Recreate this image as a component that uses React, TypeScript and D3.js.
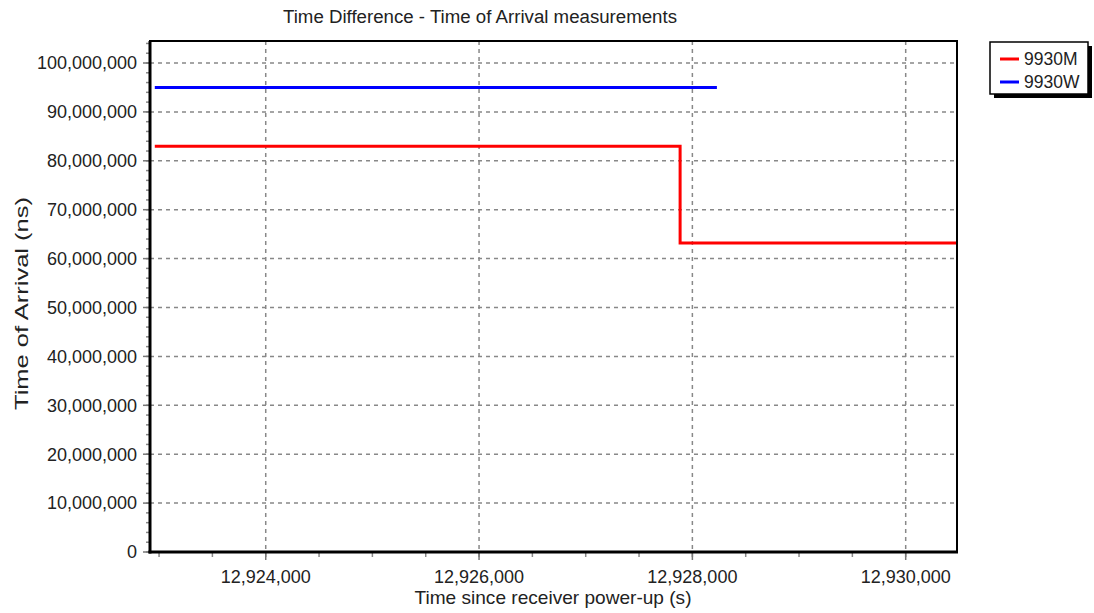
import { useEffect, useRef } from "react";
import * as d3 from "d3";

// values
const seriesNames = ["9930M", "9930W"];
const seriesColors = ["#ff0000", "#0000ff"];
const mTimes = [12922960, 12927885, 12930481];
const mValues = [83000000, 63200000, 63200000];
const wTimes = [12922960, 12928230];
const wValues = [95000000, 95000000];
const xTicks = [12924000, 12926000, 12928000, 12930000];
const yTicks = [0, 10000000, 20000000, 30000000, 40000000, 50000000, 60000000, 70000000, 80000000, 90000000, 100000000];
const xDomain = [12922915, 12930481];
const yDomain = [0, 104500000];

export default function App() {
  const svgRef = useRef<SVGSVGElement>(null);

  useEffect(() => {
    const W = 1094, H = 613;
    const margin = { top: 41, right: 137, bottom: 61, left: 150 };
    const width = W - margin.left - margin.right;
    const height = H - margin.top - margin.bottom;
    const font = "Arial, 'Liberation Sans', sans-serif";

    const root = d3.select(svgRef.current);
    root.selectAll("*").remove();
    root.attr("width", W).attr("height", H);
    root.append("rect").attr("width", W).attr("height", H).attr("fill", "white");

    const svg = root.append("g").attr("transform", `translate(${margin.left},${margin.top})`);

    const x = d3.scaleLinear().domain(xDomain).range([0, width]);
    const y = d3.scaleLinear().domain(yDomain).range([height, 0]);
    const fmt = d3.format(",");

    // grid
    svg.append("g").selectAll("line").data(yTicks.filter(d => d > 0)).join("line")
      .attr("x1", 0).attr("x2", width)
      .attr("y1", d => y(d)).attr("y2", d => y(d))
      .attr("stroke", "#888").attr("stroke-width", 1.5).attr("stroke-dasharray", "4,4");
    svg.append("g").selectAll("line").data(xTicks).join("line")
      .attr("x1", d => x(d)).attr("x2", d => x(d))
      .attr("y1", 0).attr("y2", height)
      .attr("stroke", "#888").attr("stroke-width", 1.5).attr("stroke-dasharray", "4,4");

    // minor ticks
    const yMinor = d3.range(0, yDomain[1], 2000000);
    svg.append("g").selectAll("line").data(yMinor).join("line")
      .attr("x1", -4).attr("x2", 0)
      .attr("y1", d => y(d)).attr("y2", d => y(d))
      .attr("stroke", "#888").attr("stroke-width", 1.5);
    const xMinor = d3.range(12923000, xDomain[1], 500);
    svg.append("g").selectAll("line").data(xMinor).join("line")
      .attr("x1", d => x(d)).attr("x2", d => x(d))
      .attr("y1", height).attr("y2", height + 5)
      .attr("stroke", "#888").attr("stroke-width", 1.5);

    // major ticks + labels
    const yAxis = svg.append("g");
    yAxis.selectAll("line").data(yTicks).join("line")
      .attr("x1", -7).attr("x2", 0)
      .attr("y1", d => y(d)).attr("y2", d => y(d))
      .attr("stroke", "#777").attr("stroke-width", 1.5);
    yAxis.selectAll("text").data(yTicks).join("text")
      .attr("x", -13).attr("y", d => y(d)).attr("dy", "0.35em")
      .attr("text-anchor", "end").attr("font-family", font).attr("font-size", 18)
      .attr("fill", "#222").text(d => fmt(d));

    const xAxis = svg.append("g");
    xAxis.selectAll("line").data(xTicks).join("line")
      .attr("x1", d => x(d)).attr("x2", d => x(d))
      .attr("y1", height).attr("y2", height + 8)
      .attr("stroke", "#777").attr("stroke-width", 1.5);
    xAxis.selectAll("text").data(xTicks).join("text")
      .attr("x", d => x(d)).attr("y", height + 31)
      .attr("text-anchor", "middle").attr("font-family", font).attr("font-size", 18)
      .attr("fill", "#222").text(d => fmt(d));

    // series
    const lineM = d3.line<number>().x((d, i) => x(mTimes[i])).y(d => y(d)).curve(d3.curveStepAfter);
    const lineW = d3.line<number>().x((d, i) => x(wTimes[i])).y(d => y(d));
    svg.append("path").datum(mValues).attr("fill", "none")
      .attr("stroke", seriesColors[0]).attr("stroke-width", 3).attr("d", lineM);
    svg.append("path").datum(wValues).attr("fill", "none")
      .attr("stroke", seriesColors[1]).attr("stroke-width", 3).attr("d", lineW);

    // frame
    svg.append("rect").attr("width", width).attr("height", height)
      .attr("fill", "none").attr("stroke", "black").attr("stroke-width", 2);
    svg.append("line").attr("x1", 0).attr("x2", 0).attr("y1", 0).attr("y2", height + 1.5)
      .attr("stroke", "black").attr("stroke-width", 3);
    svg.append("line").attr("x1", -1.5).attr("x2", width + 1).attr("y1", height).attr("y2", height)
      .attr("stroke", "black").attr("stroke-width", 3);

    // titles
    root.append("text").attr("x", 480).attr("y", 23)
      .attr("text-anchor", "middle").attr("font-family", font).attr("font-size", 18)
      .attr("textLength", 394).attr("lengthAdjust", "spacingAndGlyphs")
      .attr("fill", "#222").text("Time Difference - Time of Arrival measurements");
    root.append("text").attr("x", 553).attr("y", 604)
      .attr("text-anchor", "middle").attr("font-family", font).attr("font-size", 19)
      .attr("textLength", 277).attr("lengthAdjust", "spacingAndGlyphs")
      .attr("fill", "#222").text("Time since receiver power-up (s)");
    root.append("text")
      .attr("transform", `translate(28,303.5) rotate(-90)`)
      .attr("text-anchor", "middle").attr("font-family", font).attr("font-size", 18)
      .attr("textLength", 213).attr("lengthAdjust", "spacingAndGlyphs")
      .attr("fill", "#222").text("Time of Arrival (ns)");

    // legend
    const lg = root.append("g").attr("transform", "translate(990,42)");
    lg.append("rect").attr("x", 4).attr("y", 4).attr("width", 98).attr("height", 52).attr("fill", "black");
    lg.append("rect").attr("width", 98).attr("height", 52).attr("fill", "white")
      .attr("stroke", "black").attr("stroke-width", 1.5);
    seriesNames.forEach((name, i) => {
      const yy = 17 + i * 23;
      lg.append("line").attr("x1", 10).attr("x2", 29).attr("y1", yy).attr("y2", yy)
        .attr("stroke", seriesColors[i]).attr("stroke-width", 3);
      lg.append("text").attr("x", 34).attr("y", yy).attr("dy", "0.35em")
        .attr("font-family", font).attr("font-size", 17.5).attr("fill", "#222").text(name);
    });
  }, []);

  return (
    <div style={{ position: "absolute", left: 0, top: 0 }}>
      <svg ref={svgRef} style={{ display: "block" }}></svg>
    </div>
  );
}
